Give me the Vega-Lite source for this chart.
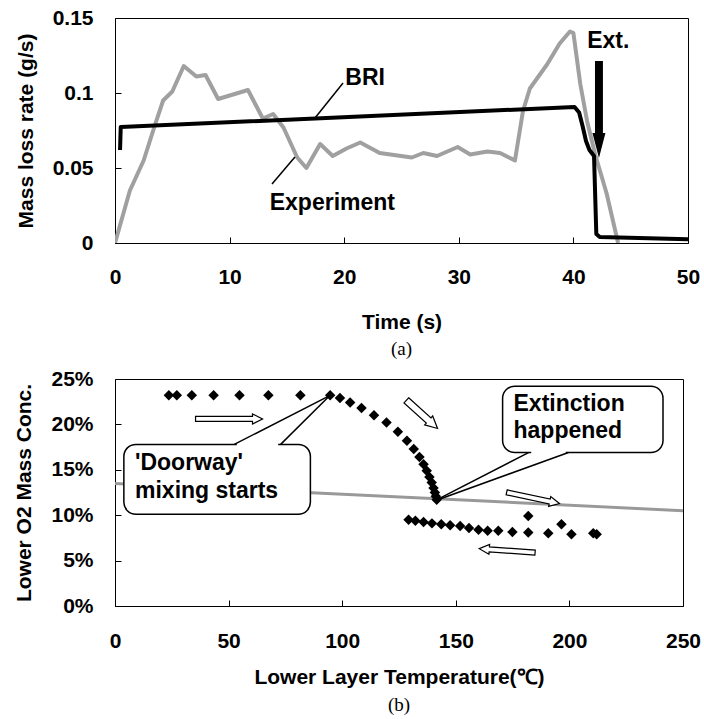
{
  "$schema": "https://vega.github.io/schema/vega-lite/v6.json",
  "padding": {"left": 13, "top": 6, "right": 0, "bottom": 0},
  "spacing": 7,
  "config": {
    "font": "Liberation Sans",
    "view": {"stroke": "#000", "strokeWidth": 1},
    "axis": {
      "labelFont": "Liberation Sans", "labelFontSize": 21, "labelFontWeight": "bold", "labelColor": "#000",
      "titleFont": "Liberation Sans", "titleFontSize": 21, "titleFontWeight": "bold", "titleColor": "#000",
      "grid": false, "domain": false, "tickColor": "#000", "tickSize": -6, "tickWidth": 1, "labelFlush": false, "labelOverlap": false
    },
    "axisY": {"labelPadding": 28, "titlePadding": 16},
    "title": {"font": "Liberation Serif", "fontSize": 19, "fontWeight": "normal", "color": "#000"}
  },
  "datasets": {
    "exp": [
      {"t": 0, "v": 0}, {"t": 1.3, "v": 0.035}, {"t": 2.5, "v": 0.055}, {"t": 3.5, "v": 0.079}, {"t": 4.2, "v": 0.095},
      {"t": 5.0, "v": 0.101}, {"t": 6.0, "v": 0.118}, {"t": 7.1, "v": 0.111}, {"t": 7.9, "v": 0.112}, {"t": 9.0, "v": 0.096},
      {"t": 10.3, "v": 0.099}, {"t": 11.6, "v": 0.102}, {"t": 12.9, "v": 0.083}, {"t": 13.8, "v": 0.086}, {"t": 14.7, "v": 0.077},
      {"t": 15.9, "v": 0.057}, {"t": 16.7, "v": 0.050}, {"t": 17.9, "v": 0.066}, {"t": 19.0, "v": 0.058}, {"t": 20.2, "v": 0.063},
      {"t": 21.4, "v": 0.067}, {"t": 23.1, "v": 0.060}, {"t": 25.9, "v": 0.057}, {"t": 26.9, "v": 0.060}, {"t": 28.1, "v": 0.058},
      {"t": 29.9, "v": 0.064}, {"t": 31.0, "v": 0.059}, {"t": 32.5, "v": 0.061}, {"t": 33.6, "v": 0.060}, {"t": 34.9, "v": 0.055},
      {"t": 35.6, "v": 0.088}, {"t": 36.2, "v": 0.103}, {"t": 37.7, "v": 0.119}, {"t": 38.8, "v": 0.133}, {"t": 39.7, "v": 0.141},
      {"t": 40.0, "v": 0.140}, {"t": 40.6, "v": 0.106}, {"t": 41.2, "v": 0.081}, {"t": 41.9, "v": 0.059}, {"t": 42.9, "v": 0.033},
      {"t": 43.9, "v": 0.0}
    ],
    "bri": [
      {"t": 0.44, "v": 0.062}, {"t": 0.5, "v": 0.0773}, {"t": 40.1, "v": 0.0907}, {"t": 40.5, "v": 0.087}, {"t": 40.8, "v": 0.078},
      {"t": 41.1, "v": 0.068}, {"t": 41.4, "v": 0.062}, {"t": 41.8, "v": 0.058}, {"t": 42.0, "v": 0.006}, {"t": 42.3, "v": 0.004},
      {"t": 50, "v": 0.0025}
    ],
    "leaders": [
      {"t": 17.45, "v": 0.0833, "t2": 19.9, "v2": 0.1067},
      {"t": 13.7, "v": 0.0393, "t2": 15.7, "v2": 0.0573}
    ],
    "labelsA": [
      {"t": 20.1, "v": 0.110, "label": "BRI"},
      {"t": 13.5, "v": 0.0267, "label": "Experiment"},
      {"t": 41.2, "v": 0.1347, "label": "Ext."}
    ],
    "ext": [{"t": 42.23, "v": 0.089}],
    "o2": [
      {"T": 23.7, "c": 0.232}, {"T": 27.2, "c": 0.232}, {"T": 33.8, "c": 0.232}, {"T": 43.4, "c": 0.232}, {"T": 54.8, "c": 0.232},
      {"T": 67.5, "c": 0.232}, {"T": 81.6, "c": 0.232}, {"T": 94.7, "c": 0.232},
      {"T": 99, "c": 0.229}, {"T": 103.5, "c": 0.224}, {"T": 108.5, "c": 0.218}, {"T": 114, "c": 0.210}, {"T": 119.5, "c": 0.202},
      {"T": 124.5, "c": 0.192}, {"T": 128.5, "c": 0.182}, {"T": 131.5, "c": 0.173}, {"T": 134, "c": 0.164}, {"T": 135.8, "c": 0.156},
      {"T": 137.2, "c": 0.149}, {"T": 138.4, "c": 0.142}, {"T": 139.4, "c": 0.136}, {"T": 140.2, "c": 0.130}, {"T": 140.8, "c": 0.125},
      {"T": 141.2, "c": 0.121}, {"T": 141.6, "c": 0.117},
      {"T": 129.2, "c": 0.095}, {"T": 132.2, "c": 0.094}, {"T": 135.8, "c": 0.0925}, {"T": 139.5, "c": 0.091}, {"T": 143.6, "c": 0.090},
      {"T": 147.5, "c": 0.089}, {"T": 151.9, "c": 0.088}, {"T": 155.8, "c": 0.086}, {"T": 160, "c": 0.084}, {"T": 164, "c": 0.083},
      {"T": 168.7, "c": 0.083}, {"T": 174.9, "c": 0.0815}, {"T": 181.9, "c": 0.081}, {"T": 181.9, "c": 0.099}, {"T": 190.7, "c": 0.080},
      {"T": 196.5, "c": 0.090}, {"T": 200.9, "c": 0.079}, {"T": 210.5, "c": 0.080}, {"T": 212, "c": 0.079}
    ],
    "limit": [{"T": 0, "c": 0.135}, {"T": 250, "c": 0.105}],
    "boxes": [
      {"T": 3.9, "T2": 86, "c": 0.178, "c2": 0.101},
      {"T": 170.6, "T2": 241.2, "c": 0.242, "c2": 0.169}
    ],
    "boxText": [
      {"T": 8.8, "c": 0.157, "label": "'Doorway'"},
      {"T": 8.8, "c": 0.127, "label": "mixing starts"},
      {"T": 175.4, "c": 0.223, "label": "Extinction"},
      {"T": 175.4, "c": 0.193, "label": "happened"}
    ],
    "tails": [
      {"T": 52.5, "c": 0.178, "T2": 94.7, "c2": 0.232},
      {"T": 72.9, "c": 0.178, "T2": 93.8, "c2": 0.230},
      {"T": 182, "c": 0.169, "T2": 140.9, "c2": 0.116},
      {"T": 199.6, "c": 0.169, "T2": 140.9, "c2": 0.116}
    ],
    "gaps": [
      {"T": 53.6, "c": 0.178, "T2": 71.8, "c2": 0.178},
      {"T": 183.2, "c": 0.169, "T2": 198.4, "c2": 0.169}
    ]
  },
  "vconcat": [
    {
      "width": 573,
      "height": 225,
      "title": {"text": "(a)", "orient": "bottom", "anchor": "middle", "frame": "group", "offset": 8},
      "encoding": {
        "x": {"field": "t", "type": "quantitative", "scale": {"domain": [0, 50], "nice": false, "zero": false},
              "axis": {"title": "Time (s)", "values": [0, 10, 20, 30, 40, 50], "labelPadding": 29, "titlePadding": 24}},
        "y": {"field": "v", "type": "quantitative", "scale": {"domain": [0, 0.15], "nice": false},
              "axis": {"title": "Mass loss rate (g/s)", "values": [0, 0.05, 0.1, 0.15], "labelExpr": "format(datum.value, '.2~f')"}}
      },
      "layer": [
        {"data": {"name": "exp"}, "mark": {"type": "line", "color": "#a0a0a0", "strokeWidth": 4, "strokeJoin": "round", "clip": true}},
        {"data": {"name": "bri"}, "mark": {"type": "line", "color": "#000", "strokeWidth": 4, "strokeJoin": "round", "clip": true}},
        {"data": {"name": "leaders"}, "mark": {"type": "rule", "color": "#000", "strokeWidth": 1.5},
         "encoding": {"x2": {"field": "t2"}, "y2": {"field": "v2"}}},
        {"data": {"name": "labelsA"}, "mark": {"type": "text", "align": "left", "baseline": "middle", "font": "Liberation Sans", "fontSize": 23, "fontWeight": "bold", "color": "#000"},
         "encoding": {"text": {"field": "label"}}},
        {"data": {"name": "ext"}, "mark": {"type": "point", "filled": true, "fill": "#000", "stroke": null, "opacity": 1, "size": 9409,
          "shape": "M -0.082 -1 L 0.082 -1 L 0.082 0.485 L 0.134 0.485 L 0 1 L -0.134 0.485 L -0.082 0.485 Z"}}
      ]
    },
    {
      "width": 568,
      "height": 227,
      "title": {"text": "(b)", "orient": "bottom", "anchor": "middle", "frame": "group", "offset": 9},
      "encoding": {
        "x": {"field": "T", "type": "quantitative", "scale": {"domain": [0, 250], "nice": false, "zero": false},
              "axis": {"title": "Lower Layer Temperature(℃)", "values": [0, 50, 100, 150, 200, 250], "labelPadding": 30, "titlePadding": 15}},
        "y": {"field": "c", "type": "quantitative", "scale": {"domain": [0, 0.25], "nice": false},
              "axis": {"title": "Lower O2 Mass Conc.", "values": [0, 0.05, 0.1, 0.15, 0.2, 0.25], "format": ".0%"}}
      },
      "layer": [
        {"data": {"name": "limit"}, "mark": {"type": "line", "color": "#999999", "strokeWidth": 3}},
        {"data": {"name": "o2"}, "mark": {"type": "point", "shape": "diamond", "filled": true, "color": "#000", "opacity": 1, "size": 110}},
        {"data": {"name": "boxes"}, "mark": {"type": "rect", "fill": "#fff", "stroke": "#000", "strokeWidth": 1.5, "cornerRadius": 12},
         "encoding": {"x2": {"field": "T2"}, "y2": {"field": "c2"}}},
        {"data": {"name": "gaps"}, "mark": {"type": "rule", "color": "#fff", "strokeWidth": 3},
         "encoding": {"x2": {"field": "T2"}, "y2": {"field": "c2"}}},
        {"data": {"name": "tails"}, "mark": {"type": "rule", "color": "#000", "strokeWidth": 1.5},
         "encoding": {"x2": {"field": "T2"}, "y2": {"field": "c2"}}},
        {"data": {"name": "boxText"}, "mark": {"type": "text", "align": "left", "baseline": "middle", "font": "Liberation Sans", "fontSize": 23, "fontWeight": "bold", "color": "#000"},
         "encoding": {"text": {"field": "label"}}},
        {"data": {"values": [{"T": 50.2, "c": 0.206}]}, "mark": {"type": "point", "filled": true, "fill": "#fff", "stroke": "#000", "strokeWidth": 1.2, "opacity": 1, "size": 4489, "angle": 0,
          "shape": "M -1 -0.075 L 0.7 -0.075 L 0.7 -0.15 L 1 0 L 0.7 0.15 L 0.7 0.075 L -1 0.075 Z"}},
        {"data": {"values": [{"T": 135.1, "c": 0.211}]}, "mark": {"type": "point", "filled": true, "fill": "#fff", "stroke": "#000", "strokeWidth": 1.2, "opacity": 1, "size": 1764, "angle": 42,
          "shape": "M -1 -0.167 L 0.43 -0.167 L 0.43 -0.286 L 1 0 L 0.43 0.286 L 0.43 0.167 L -1 0.167 Z"}},
        {"data": {"values": [{"T": 184, "c": 0.119}]}, "mark": {"type": "point", "filled": true, "fill": "#fff", "stroke": "#000", "strokeWidth": 1.2, "opacity": 1, "size": 2916, "angle": 12,
          "shape": "M -1 -0.093 L 0.63 -0.093 L 0.63 -0.185 L 1 0 L 0.63 0.185 L 0.63 0.093 L -1 0.093 Z"}},
        {"data": {"values": [{"T": 172.6, "c": 0.061}]}, "mark": {"type": "point", "filled": true, "fill": "#fff", "stroke": "#000", "strokeWidth": 1.2, "opacity": 1, "size": 3136, "angle": 184,
          "shape": "M -1 -0.089 L 0.64 -0.089 L 0.64 -0.179 L 1 0 L 0.64 0.179 L 0.64 0.089 L -1 0.089 Z"}}
      ]
    }
  ]
}
